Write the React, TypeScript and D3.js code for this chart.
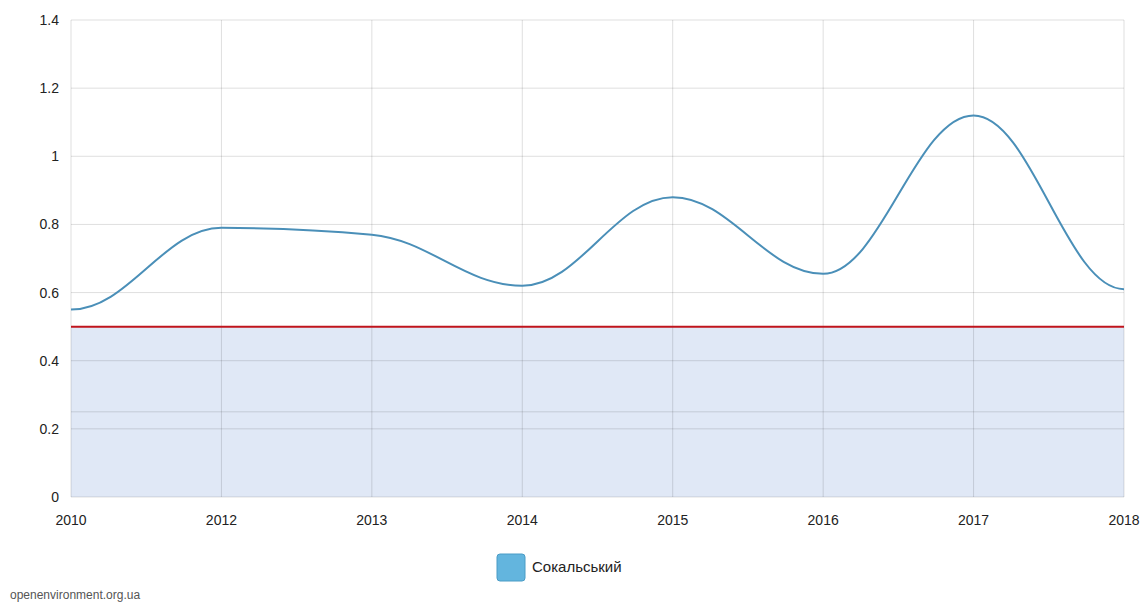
import React from "react";
import * as d3 from "d3";

const years = ["2010", "2012", "2013", "2014", "2015", "2016", "2017", "2018"];
const values = [0.55, 0.79, 0.77, 0.62, 0.88, 0.655, 1.12, 0.61];
const yTicks = [0, 0.2, 0.4, 0.6, 0.8, 1, 1.2, 1.4];
const threshold = 0.5;
const bandInnerLine = 0.25;
const seriesName = "Сокальський";
const credit = "openenvironment.org.ua";

// Smooth spline (Highcharts-like control distance) with flat end tangents and monotone interior tangents
function curveSplineFlatEnds(context: any) {
  let xs: number[] = [];
  let ys: number[] = [];
  return {
    areaStart() {},
    areaEnd() {},
    lineStart() {
      xs = [];
      ys = [];
    },
    point(x: number, y: number) {
      xs.push(+x);
      ys.push(+y);
    },
    lineEnd() {
      const n = xs.length;
      if (!n) return;
      const m: number[] = new Array(n).fill(0);
      for (let i = 1; i < n - 1; i++) {
        const h0 = xs[i] - xs[i - 1];
        const h1 = xs[i + 1] - xs[i];
        const s0 = (ys[i] - ys[i - 1]) / h0;
        const s1 = (ys[i + 1] - ys[i]) / h1;
        const p = (s0 * h1 + s1 * h0) / (h0 + h1);
        m[i] = (Math.sign(s0) + Math.sign(s1)) * Math.min(Math.abs(s0), Math.abs(s1), 0.5 * Math.abs(p)) || 0;
      }
      context.moveTo(xs[0], ys[0]);
      for (let i = 0; i < n - 1; i++) {
        const h = (xs[i + 1] - xs[i]) * 0.38;
        context.bezierCurveTo(xs[i] + h, ys[i] + m[i] * h, xs[i + 1] - h, ys[i + 1] - m[i + 1] * h, xs[i + 1], ys[i + 1]);
      }
    },
  };
}

export default function App() {
  const W = 1145, H = 604;
  const left = 71, right = 1124, top = 20, bottom = 497;
  const x = d3.scalePoint<string>().domain(years).range([left, right]);
  const y = d3.scaleLinear().domain([0, 1.4]).range([bottom, top]);
  const line = d3
    .line<number>()
    .x((_, i) => x(years[i]) as number)
    .y((d) => y(d))
    .curve(curveSplineFlatEnds as any);
  const font = "'Liberation Sans', Arial, sans-serif";
  return (
    <svg width={W} height={H} style={{ position: "absolute", left: 0, top: 0 }}>
      <rect x={0} y={0} width={W} height={H} fill="#fff" />
      <rect x={left} y={y(threshold)} width={right - left} height={bottom - y(threshold)} fill="#e0e8f6" />
      {yTicks.map((t) => (
        <line key={"h" + t} x1={left} x2={right} y1={y(t)} y2={y(t)} stroke="rgba(0,0,0,0.13)" strokeWidth={1} />
      ))}
      <line x1={left} x2={right} y1={y(bandInnerLine)} y2={y(bandInnerLine)} stroke="rgba(0,0,0,0.13)" strokeWidth={1} />
      {years.map((yr) => (
        <line key={"v" + yr} x1={x(yr)} x2={x(yr)} y1={top} y2={bottom} stroke="rgba(0,0,0,0.13)" strokeWidth={1} />
      ))}
      <line x1={left} x2={right} y1={y(threshold)} y2={y(threshold)} stroke="#c0141c" strokeWidth={2} />
      <path d={line(values) || ""} fill="none" stroke="#4a8fb8" strokeWidth={2} />
      {yTicks.map((t) => (
        <text key={"yl" + t} x={59} y={y(t) + 5} textAnchor="end" fontFamily={font} fontSize={14} fill="#222">
          {d3.format("~g")(t)}
        </text>
      ))}
      {years.map((yr) => (
        <text key={"xl" + yr} x={x(yr)} y={525} textAnchor="middle" fontFamily={font} fontSize={14} fill="#222">
          {yr}
        </text>
      ))}
      <rect x={497} y={554} width={28} height={27} rx={3} fill="#63b5de" stroke="#4a9cc6" strokeWidth={1} />
      <text x={532} y={572} fontFamily={font} fontSize={15} fill="#222">{seriesName}</text>
      <text x={10} y={599} fontFamily={font} fontSize={12} fill="#555">{credit}</text>
    </svg>
  );
}
